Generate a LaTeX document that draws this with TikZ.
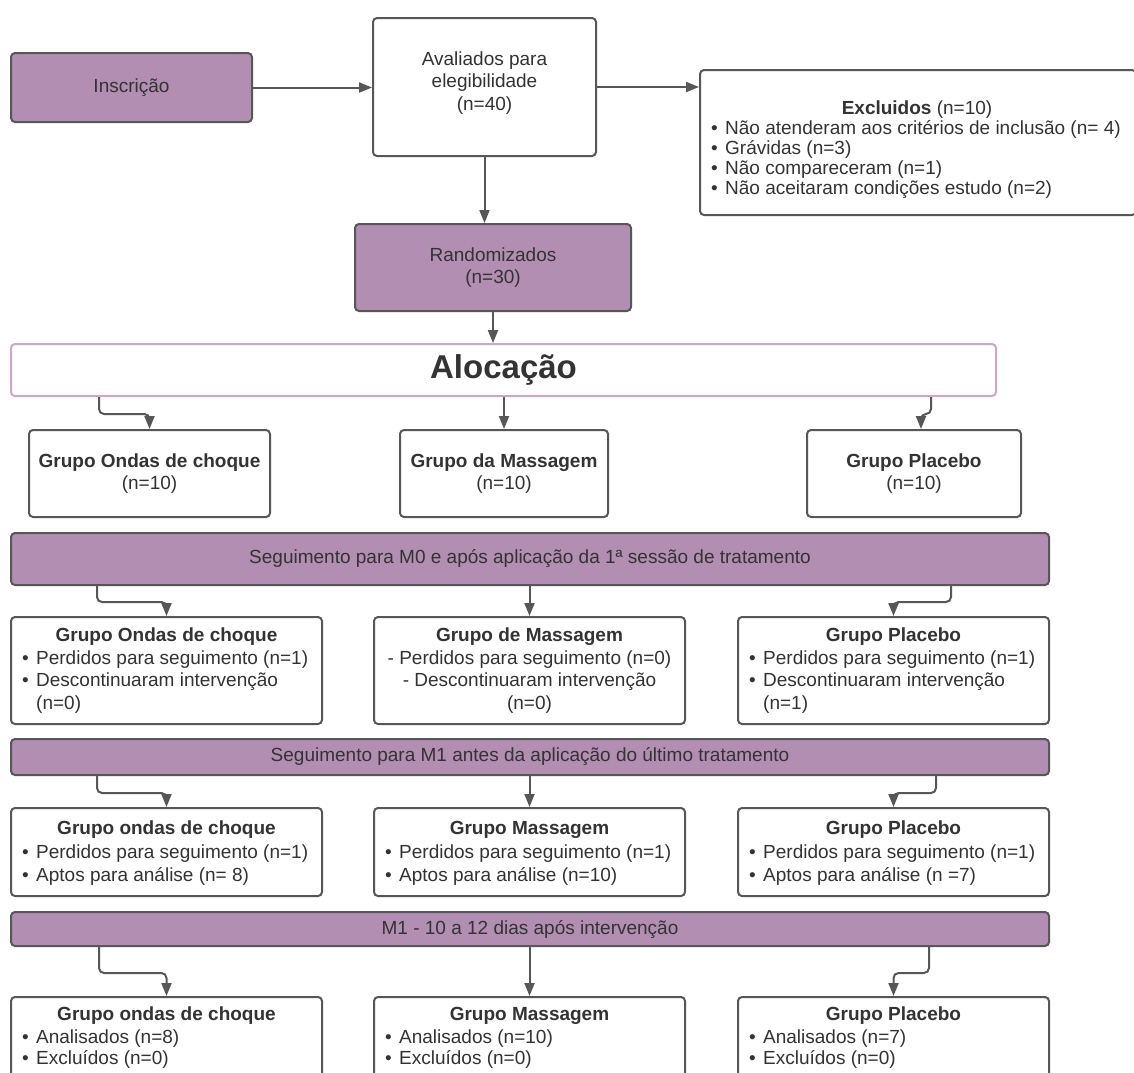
\documentclass[tikz,border=0pt]{standalone}
\usepackage{fontspec}
\setmainfont{Liberation Sans}
\usetikzlibrary{arrows.meta}
\definecolor{mauve}{HTML}{B18EB2}
\definecolor{edgegray}{HTML}{575757}
\definecolor{txtgray}{HTML}{333333}
\definecolor{lilac}{HTML}{C9A8CB}
\newcommand\bodyfs{\fontsize{19}{22.5}\selectfont}
\newcommand\bigfs{\fontsize{33}{36}\selectfont}
\newcommand\bul{\makebox[14pt][l]{•}}
\newcommand\bulind{\hspace*{14pt}}
\begin{document}
\begin{tikzpicture}[x=1pt,y=-1pt,
  box/.style={draw=edgegray,line width=2pt,rounded corners=4pt,fill=white,inner sep=0pt,
    text=txtgray,font=\bodyfs,align=center},
  pbox/.style={box,fill=mauve},
  arr/.style={draw=edgegray,line width=2pt,rounded corners=5pt,
    -{Triangle[length=13pt,width=10pt]}},
  lbl/.style={text=txtgray,inner sep=0pt,font=\bodyfs},
  hd/.style={lbl,anchor=base,font=\bodyfs\bfseries},
  ln/.style={lbl,anchor=base west},
  lc/.style={lbl,anchor=base}]
\useasboundingbox (0,0) rectangle (1134,1072);
\clip (0,0) rectangle (1134,1072);
\fill[white] (0,0) rectangle (1134,1072);

% top part
\node[pbox,minimum width=241pt,minimum height=69pt] (ins) at (131.5,87.5) {Inscrição};
\node[box,minimum width=223pt,minimum height=138pt] (aval) at (484.5,87) {};
\node[lbl,align=center] (avalt) at ([yshift=4pt]aval.center) {Avaliados para\\elegibilidade\\(n=40)};
\node[box,minimum width=436pt,minimum height=145pt] (excl) at (918,142.5) {};
\node[hd] (exh) at (917,114) {Excluidos\mdseries\ (n=10)};
\node[ln] (ex1) at (711,134) {\bul Não atenderam aos critérios de inclusão (n= 4)};
\node[ln] (ex2) at (711,154) {\bul Grávidas (n=3)};
\node[ln] (ex3) at (711,174) {\bul Não compareceram (n=1)};
\node[ln] (ex4) at (711,194) {\bul Não aceitaram condições estudo (n=2)};
\node[pbox,minimum width=276pt,minimum height=87pt] (rand) at (493,267.5) {Randomizados\\(n=30)};
\node[box,draw=lilac,minimum width=985pt,minimum height=52pt] (alloc) at (503.5,370) {\bigfs\bfseries Alocação};

\draw[arr] (ins.east) -- (ins.east -| aval.west);
\draw[arr] (aval.east) -- (aval.east -| excl.west);
\draw[arr] (aval.south) -- (aval.south |- rand.north);
\draw[arr] (rand.south) -- (rand.south |- alloc.north);

% row 1
\node[box,minimum width=241pt,minimum height=87pt] (g11) at (149.5,473.5) {\bfseries Grupo Ondas de choque\\(n=10)};
\node[box,minimum width=208pt,minimum height=87pt] (g12) at (504,473.5) {\bfseries Grupo da Massagem\\(n=10)};
\node[box,minimum width=214pt,minimum height=87pt] (g13) at (914,473.5) {\bfseries Grupo Placebo\\(n=10)};
\draw[arr] ([xshift=89pt]alloc.south west) -- ++(0,17) -| (g11.north);
\draw[arr] (alloc.south -| g12.north) -- (g12.north);
\draw[arr] ([xshift=921pt]alloc.south west) -- ++(0,17) -| ([xshift=7pt]g13.north);

% banner 1 and row 2
\node[pbox,minimum width=1038pt,minimum height=52pt] (ban1) at (530,559) {Seguimento para M0 e após aplicação da 1ª sessão de tratamento};
\node[box,minimum width=311pt,minimum height=107pt] (g21) at (166.5,670.5) {};
\node[box,minimum width=311pt,minimum height=107pt] (g22) at (529.5,670.5) {};
\node[box,minimum width=311pt,minimum height=107pt] (g23) at (893.5,670.5) {};
\draw[arr] ([xshift=87pt]ban1.south west) -- ++(0,16) -| (g21.north);
\draw[arr] (ban1.south -| g22.north) -- (g22.north);
\draw[arr] ([xshift=941pt]ban1.south west) -- ++(0,16) -| (g23.north);

\node[hd] (g21h) at (166.5,641.5) {Grupo Ondas de choque};
\node[ln] (g21a) at (22,664.5) {\bul Perdidos para seguimento (n=1)};
\node[ln] (g21b) at (22,686.5) {\bul Descontinuaram intervenção};
\node[ln] (g21c) at (22,709.5) {\bulind (n=0)};
\node[hd] (g22h) at (529.5,641.5) {Grupo de Massagem};
\node[lc] (g22a) at (529.5,664.5) {- Perdidos para seguimento (n=0)};
\node[lc] (g22b) at (529.5,686.5) {- Descontinuaram intervenção};
\node[lc] (g22c) at (529.5,709.5) {(n=0)};
\node[hd] (g23h) at (893.5,641.5) {Grupo Placebo};
\node[ln] (g23a) at (749,664.5) {\bul Perdidos para seguimento (n=1)};
\node[ln] (g23b) at (749,686.5) {\bul Descontinuaram intervenção};
\node[ln] (g23c) at (749,709.5) {\bulind (n=1)};

% banner 2 and row 3
\node[pbox,minimum width=1038pt,minimum height=36pt] (ban2) at (530,757) {Seguimento para M1 antes da aplicação do último tratamento};
\node[box,minimum width=311pt,minimum height=88pt] (g31) at (166.5,852) {};
\node[box,minimum width=311pt,minimum height=88pt] (g32) at (529.5,852) {};
\node[box,minimum width=311pt,minimum height=88pt] (g33) at (893.5,852) {};
\draw[arr] ([xshift=87pt]ban2.south west) -- ++(0,17) -| (g31.north);
\draw[arr] (ban2.south -| g32.north) -- (g32.north);
\draw[arr] ([xshift=926pt]ban2.south west) -- ++(0,17) -| (g33.north);

\node[hd] (g31h) at (166.5,834.5) {Grupo ondas de choque};
\node[ln] (g31a) at (22,858.5) {\bul Perdidos para seguimento (n=1)};
\node[ln] (g31b) at (22,881.5) {\bul Aptos para análise (n= 8)};
\node[hd] (g32h) at (529.5,834.5) {Grupo Massagem};
\node[ln] (g32a) at (385,858.5) {\bul Perdidos para seguimento (n=1)};
\node[ln] (g32b) at (385,881.5) {\bul Aptos para análise (n=10)};
\node[hd] (g33h) at (893.5,834.5) {Grupo Placebo};
\node[ln] (g33a) at (749,858.5) {\bul Perdidos para seguimento (n=1)};
\node[ln] (g33b) at (749,881.5) {\bul Aptos para análise (n =7)};

% banner 3 and row 4
\node[pbox,minimum width=1038pt,minimum height=34pt] (ban3) at (530,929) {M1 - 10 a 12 dias após intervenção};
\node[box,minimum width=311pt,minimum height=93pt] (g41) at (166.5,1043.5) {};
\node[box,minimum width=311pt,minimum height=93pt] (g42) at (529.5,1043.5) {};
\node[box,minimum width=311pt,minimum height=93pt] (g43) at (893.5,1043.5) {};
\draw[arr] ([xshift=89pt]ban3.south west) -- ++(0,26) -| (g41.north);
\draw[arr] (ban3.south -| g42.north) -- (g42.north);
\draw[arr] ([xshift=919pt]ban3.south west) -- ++(0,26) -| (g43.north);

\node[hd] (g41h) at (166.5,1020.5) {Grupo ondas de choque};
\node[ln] (g41a) at (22,1043.5) {\bul Analisados (n=8)};
\node[ln] (g41b) at (22,1064.5) {\bul Excluídos (n=0)};
\node[hd] (g42h) at (529.5,1020.5) {Grupo Massagem};
\node[ln] (g42a) at (385,1043.5) {\bul Analisados (n=10)};
\node[ln] (g42b) at (385,1064.5) {\bul Excluídos (n=0)};
\node[hd] (g43h) at (893.5,1020.5) {Grupo Placebo};
\node[ln] (g43a) at (749,1043.5) {\bul Analisados (n=7)};
\node[ln] (g43b) at (749,1064.5) {\bul Excluídos (n=0)};
\end{tikzpicture}
\end{document}
